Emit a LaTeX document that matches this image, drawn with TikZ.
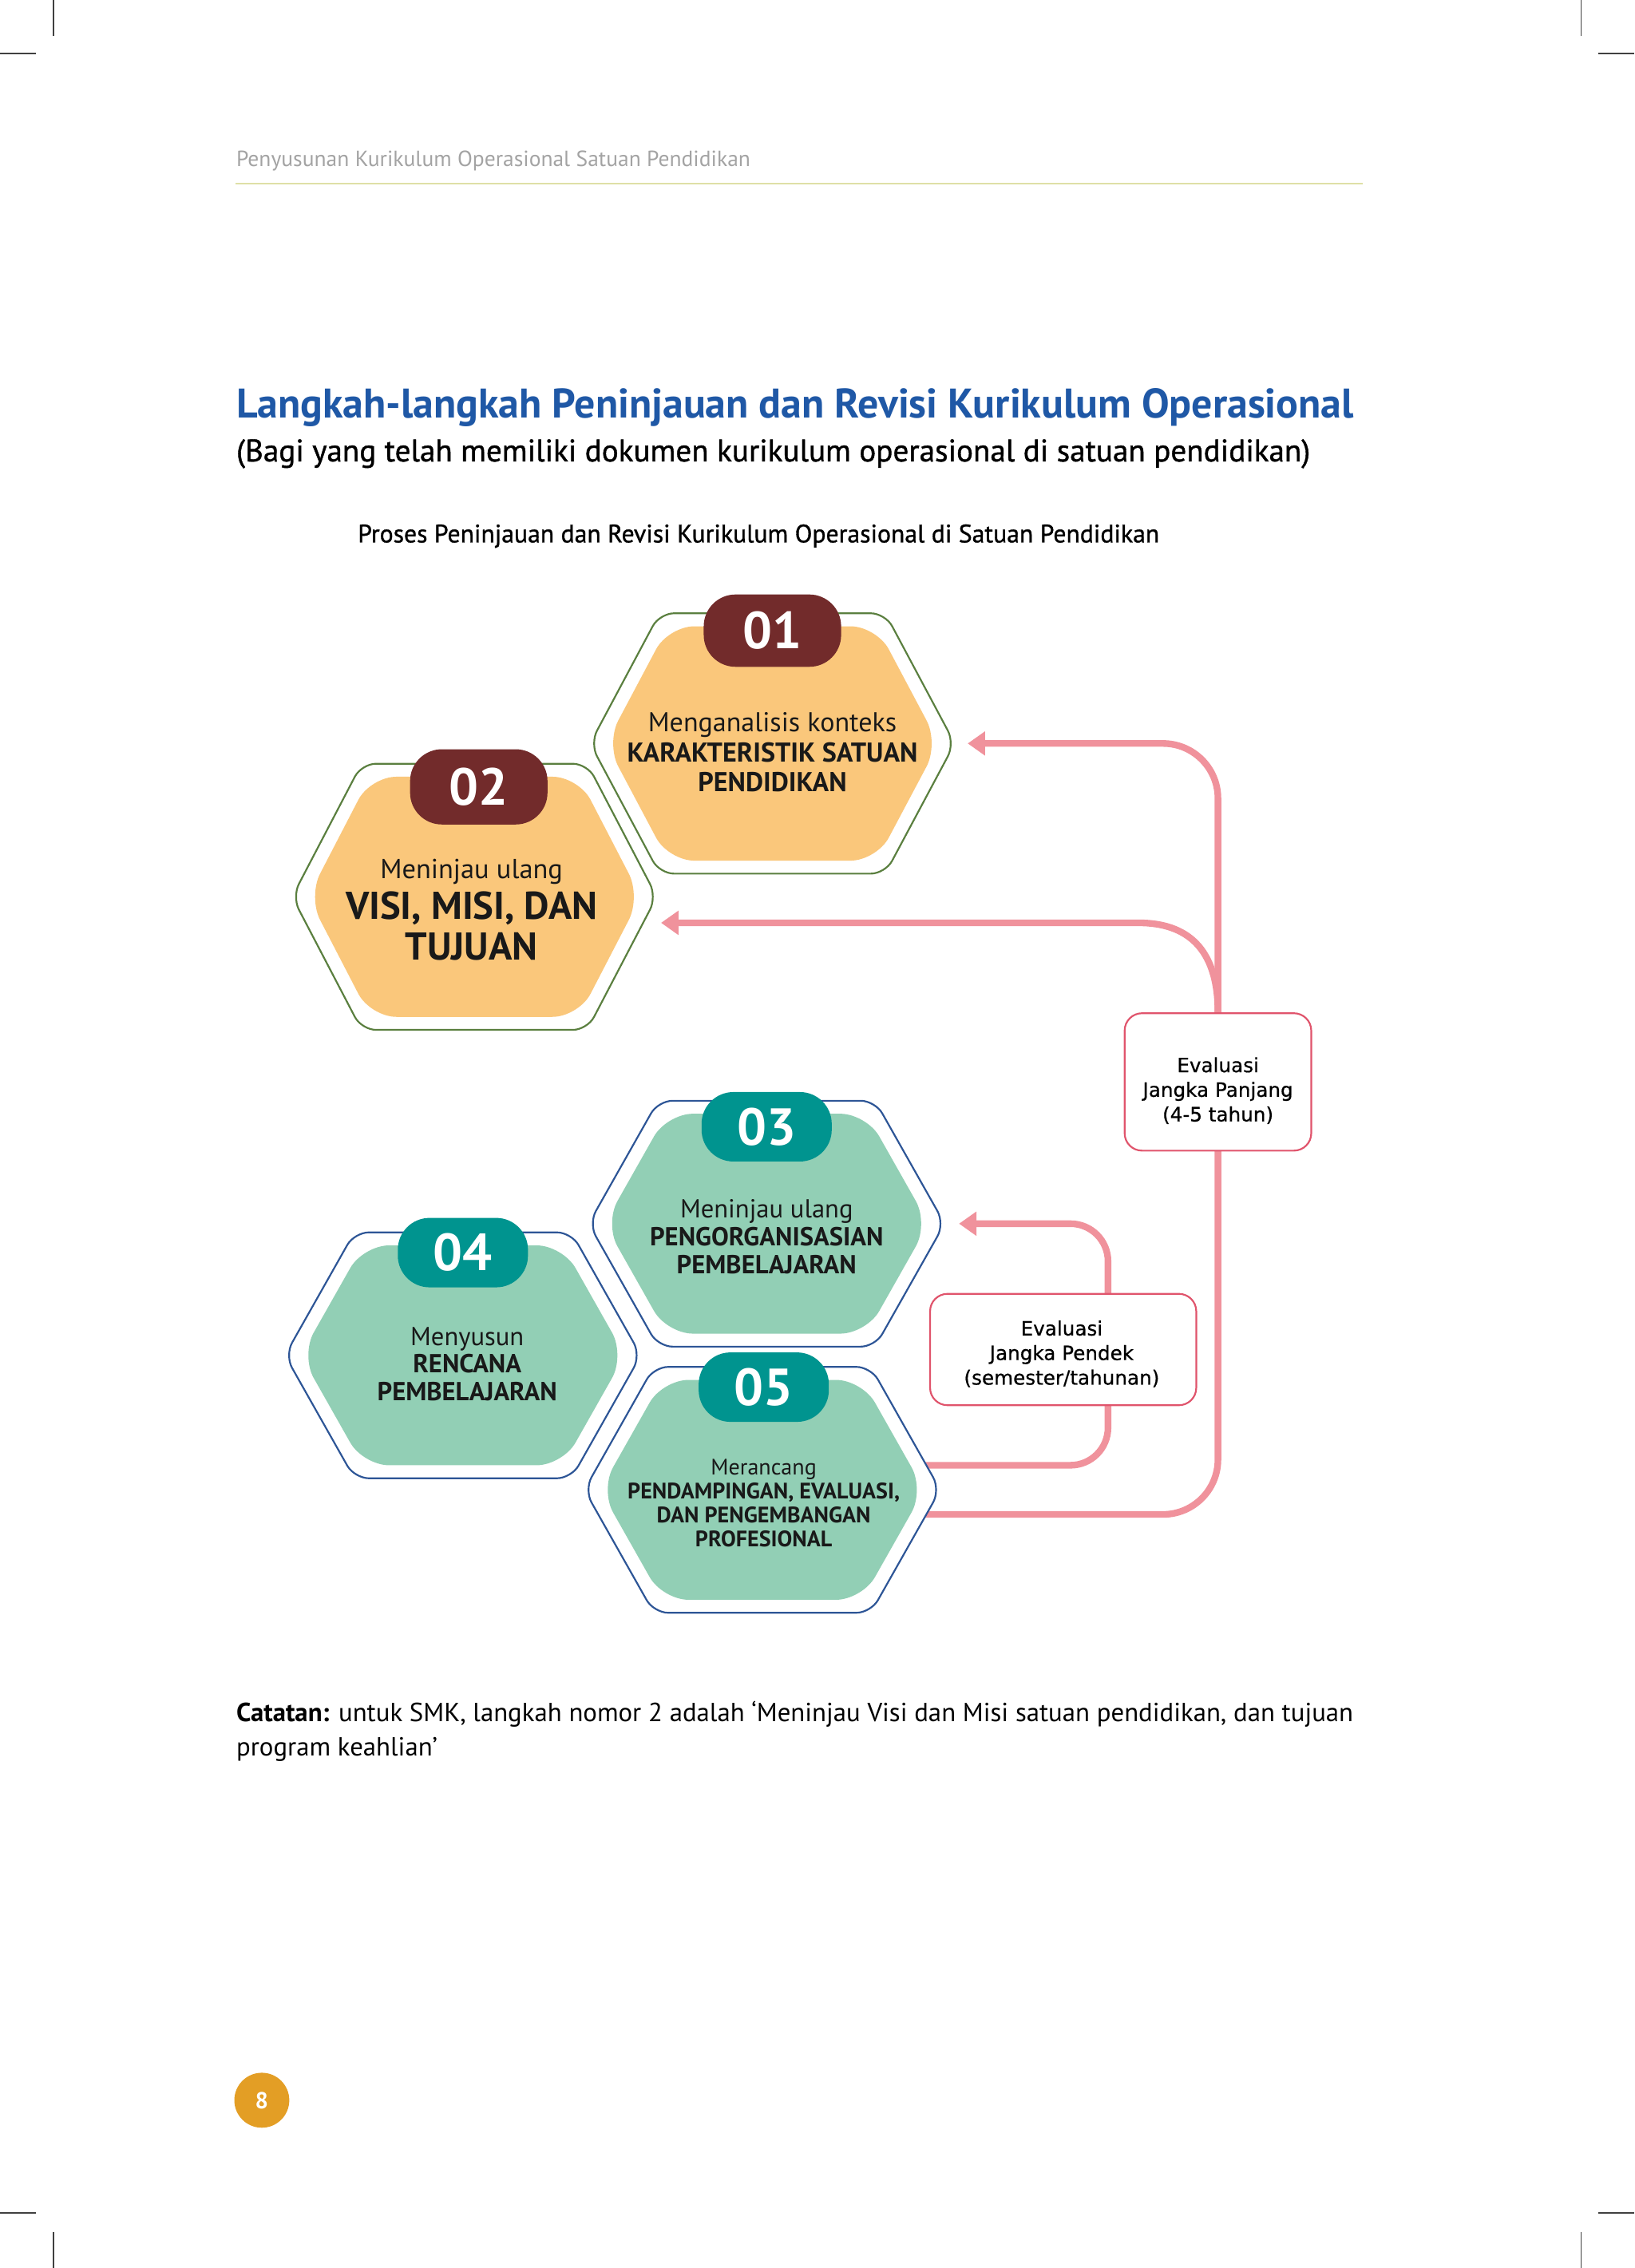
\documentclass[tikz,border=0pt]{standalone}
\usepackage{fontspec}
\setmainfont{PT Sans}
\newfontfamily\semifont[FakeBold=1]{PT Sans}
\newfontfamily\boxfont[FakeBold=0.6]{DejaVu Sans}
\usetikzlibrary{arrows.meta,calc,backgrounds}

\definecolor{hexorange}{HTML}{FAC77B}
\definecolor{hexgreen}{HTML}{92CFB5}
\definecolor{badgered}{HTML}{722B2B}
\definecolor{badgeteal}{HTML}{00948F}
\definecolor{ringgreen}{HTML}{5A7F3F}
\definecolor{ringblue}{HTML}{2D5596}
\definecolor{looppink}{HTML}{F0929C}
\definecolor{boxred}{HTML}{E0546C}
\definecolor{titleblue}{HTML}{1F58A6}
\definecolor{headgray}{HTML}{A3A3A3}
\definecolor{headline}{HTML}{DFE0A6}
\definecolor{pageorange}{HTML}{E39E25}

\newcommand{\setfs}[2]{\fontsize{#1}{#2}\selectfont}

\tikzset{
  cropmark/.style={line width=0.4pt, black!75},
  hexring/.style={fill=white, line width=0.6pt, rounded corners=5pt},
  hexcore/.style={rounded corners=9pt},
  badge/.style={rectangle, rounded corners=11pt, minimum width=47.5pt, minimum height=25pt,
    text=white, font=\setfs{18}{20}\bfseries, inner sep=0pt},
  steptext/.style={align=center, text=black!90, font=\setfs{9}{9.6}},
  evalbox/.style={draw=boxred, fill=white, line width=0.6pt, rounded corners=6pt, inner sep=0pt},
  evaltext/.style={align=center, font=\boxfont\setfs{6.8}{8.5}, inner sep=0pt},
  loopline/.style={draw=looppink, line width=2.3pt, -{Triangle[length=6pt,width=8pt]}},
}

\begin{document}
\begin{tikzpicture}[x=0.5pt, y=-0.5pt]
    \useasboundingbox (0,0) rectangle (1130,1568);

    % crop marks
    \draw[cropmark] (37,0) -- (37,25) (0,37) -- (25,37);
    \draw[cropmark] (1093,0) -- (1093,25) (1105,37) -- (1130,37);
    \draw[cropmark] (0,1530) -- (25,1530) (37,1543) -- (37,1568);
    \draw[cropmark] (1105,1530) -- (1130,1530) (1093,1543) -- (1093,1568);

    % running head
    \node[anchor=base west, text=headgray, font=\setfs{7.6}{8}, inner sep=0pt] (head) at (163,115)
        {Penyusunan Kurikulum Operasional Satuan Pendidikan};
    \draw[headline, line width=0.6pt] (163,127) -- (942,127);

    \node[anchor=base west, text=titleblue, font=\setfs{14.3}{16}\bfseries, inner sep=0pt] (title) at (163,289)
        {Langkah-langkah Peninjauan dan Revisi Kurikulum Operasional};
    \node[anchor=base west, font=\semifont\setfs{10.8}{12}, inner sep=0pt] (subtitle) at (163,319)
        {(Bagi yang telah memiliki dokumen kurikulum operasional di satuan pendidikan)};
    \node[anchor=base west, font=\semifont\setfs{8.75}{10}, inner sep=0pt] (caption) at (247,375)
        {Proses Peninjauan dan Revisi Kurikulum Operasional di Satuan Pendidikan};

    % hexagon centres
    \coordinate (h1) at (534,514);
    \coordinate (h2) at (328,620);
    \coordinate (h3) at (530,846);
    \coordinate (h4) at (320,937);
    \coordinate (h5) at (527,1030);

    \foreach \n/\w/\h/\a/\rc/\fc in {h1/126/90/78/ringgreen/hexorange, h2/126/92/78/ringgreen/hexorange,
        h3/123/85/75/ringblue/hexgreen, h4/123/85/75/ringblue/hexgreen, h5/123/85/75/ringblue/hexgreen}{
      \draw[hexring, draw=\rc, shift={(\n)}] (0,-\h) -- (\a,-\h) -- (\w,0) -- (\a,\h) -- (-\a,\h) -- (-\w,0) -- (-\a,-\h) -- cycle;
      \fill[hexcore, fill=\fc, shift={(\n)}] (0,-\h+9) -- (\a-6,-\h+9) -- (\w-11,0) -- (\a-6,\h-9)
          -- (-\a+6,\h-9) -- (-\w+11,0) -- (-\a+6,-\h+9) -- cycle;
      \coordinate (\n-r) at ($(\n)+(\w,0)$);
    }

    % step numbers
    \node[badge, fill=badgered] (b1) at (534,436) {01};
    \node[badge, fill=badgered, minimum height=26pt] (b2) at (331,544) {02};
    \node[badge, fill=badgeteal, minimum width=45pt, minimum height=24pt] (b3) at (530,779) {03};
    \node[badge, fill=badgeteal, minimum width=45pt, minimum height=24pt] (b4) at (320,866) {04};
    \node[badge, fill=badgeteal, minimum width=45pt, minimum height=24pt] (b5) at (528,959) {05};

    % step texts
    \node[steptext, font=\setfs{9.4}{10.3}] (t1) at (534,520)
        {Menganalisis konteks\\ \bfseries KARAKTERISTIK SATUAN\\ \bfseries PENDIDIKAN};
    \node[steptext, font=\setfs{13.4}{14}\bfseries] (t2) at (326,629)
        {{\mdseries\setfs{9.5}{14}Meninjau ulang}\\ VISI, MISI, DAN\\ TUJUAN};
    \node[steptext] (t3) at (530,855)
        {Meninjau ulang\\ \bfseries PENGORGANISASIAN\\ \bfseries PEMBELAJARAN};
    \node[steptext] (t4) at (323,943)
        {Menyusun\\ \bfseries RENCANA\\ \bfseries PEMBELAJARAN};
    \node[steptext, font=\setfs{7.75}{8.3}] (t5) at (528,1039)
        {Merancang\\ \bfseries PENDAMPINGAN, EVALUASI,\\ \bfseries DAN PENGEMBANGAN\\ \bfseries PROFESIONAL};

    % evaluation boxes
    \node[evalbox, minimum width=64.5pt, minimum height=47.5pt] (lt) at (842,748) {};
    \node[evaltext] (ltx) at ($(lt.center)+(0,6)$) {Evaluasi\\ Jangka Panjang\\ (4-5 tahun)};
    \node[evalbox, minimum width=92pt, minimum height=38.5pt] (st) at (735,933) {};
    \node[evaltext] (stx) at ($(st.center)+(-1,3)$) {Evaluasi\\ Jangka Pendek\\ (semester/tahunan)};

    \coordinate (out5a) at (600,1013);
    \coordinate (out5b) at (600,1047);
    \coordinate (sv) at (766,0);
    \coordinate (in1) at ($(h1-r)+(9,0)$);
    \coordinate (in2) at ($(h2-r)+(3,18)$);
    \coordinate (in3) at ($(h3-r)+(10,0)$);

    \begin{scope}[on background layer]
      \draw[loopline, rounded corners=19pt] (out5b) -- (lt.center |- out5b) -- (lt.center |- in1) -- (in1);
      \draw[loopline] (lt.north) .. controls ($(lt.north)+(0,-45)$) and ($(lt.north |- in2)+(-22,0)$)
          .. ($(lt.north |- in2)+(-55,0)$) -- (in2);
      \draw[loopline, rounded corners=13pt] (out5a) -- (sv |- out5a) -- (sv |- in3) -- (in3);
    \end{scope}

    \node[anchor=base west, font=\setfs{9.05}{12}, inner sep=0pt] (note1) at (163,1190)
        {\textbf{Catatan:} untuk SMK, langkah nomor 2 adalah ‘Meninjau Visi dan Misi satuan pendidikan, dan tujuan};
    \node[anchor=base west, font=\setfs{9.05}{12}, inner sep=0pt] (note2) at (163,1214)
        {program keahlian’};

    \node[circle, fill=pageorange, minimum size=19pt, inner sep=0pt, text=white, font=\setfs{8}{9}\bfseries] (page) at (181,1452) {8};
\end{tikzpicture}
\end{document}
